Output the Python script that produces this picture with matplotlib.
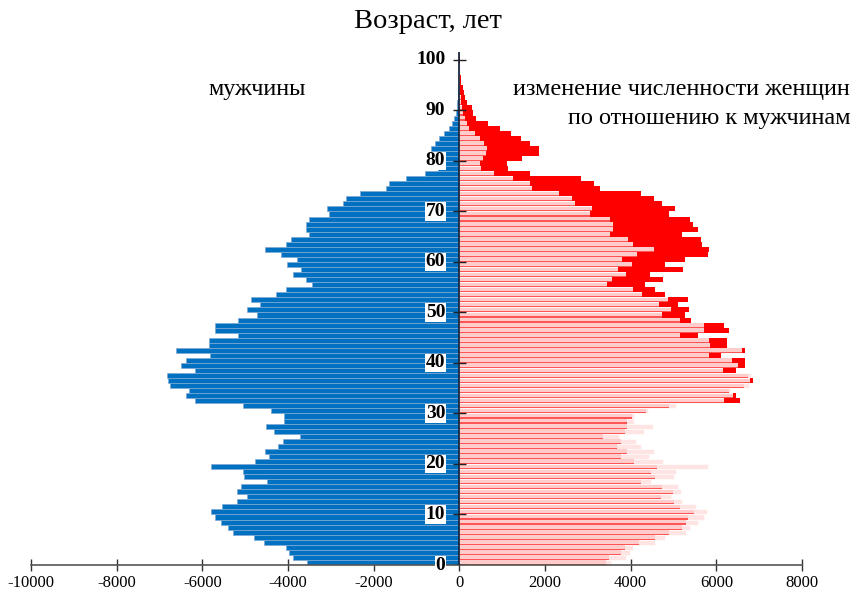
import numpy as np
import matplotlib
matplotlib.use("Agg")
import matplotlib.pyplot as plt

ages = list(range(0, 101))

male = [3550, 3890, 3980, 4055, 4570, 4800, 5290, 5390, 5570, 5705,
        5790, 5530, 5190, 4950, 5180, 5105, 4480, 5020, 5060, 5800,
        4765, 4435, 4545, 4240, 4120, 3725, 4320, 4525, 4085, 4085,
        4400, 5060, 6175, 6390, 6315, 6755, 6790, 6820, 6165, 6505,
        6370, 5825, 6610, 5850, 5835, 5160, 5715, 5705, 5160, 4730,
        4950, 4665, 4875, 4275, 4045, 3440, 3575, 3880, 3695, 4020,
        3790, 4155, 4545, 4055, 3935, 3520, 3585, 3585, 3520, 3040,
        3090, 2710, 2635, 2330, 1705, 1640, 1245, 800, 505, 490,
        555, 620, 655, 570, 480, 360, 230, 175, 130, 85,
        60, 45, 35, 25, 20, 15, 10, 8, 5, 3, 2]

female = [3430, 3485, 3780, 3870, 4195, 4560, 4885, 5210, 5300, 5345,
          5485, 5160, 5005, 4700, 4980, 4730, 4240, 4560, 4470, 4610,
          4085, 3780, 3920, 3690, 3780, 3345, 3870, 3920, 3920, 4030,
          4360, 4895, 6560, 6450, 6300, 6635, 6865, 6730, 6450, 6665,
          6665, 6110, 6665, 6240, 6240, 5575, 6295, 6185, 5420, 5270,
          5355, 5095, 5345, 4810, 4560, 4340, 4745, 4450, 5225, 4790,
          5280, 5805, 5825, 5670, 5650, 5205, 5575, 5465, 5390, 4885,
          5025, 4720, 4545, 4240, 3290, 3135, 2830, 1640, 1135, 1115,
          1465, 1870, 1870, 1660, 1430, 1210, 950, 675, 395, 320,
          305, 185, 140, 110, 75, 45, 30, 20, 12, 8, 5]

x_ticks = [-10000, -8000, -6000, -4000, -2000, 0, 2000, 4000, 6000, 8000]
y_ticks = [0, 10, 20, 30, 40, 50, 60, 70, 80, 90, 100]

title_text = "Возраст, лет"
left_label = "мужчины"
right_label1 = "изменение численности женщин"
right_label2 = "по отношению к мужчинам"

serif = ["Liberation Serif", "DejaVu Serif"]

a = np.array(ages, dtype=float)
m = np.array(male, dtype=float)
f = np.array(female, dtype=float)
common = np.minimum(m, f)
excess = np.clip(f - m, 0, None)

fig = plt.figure(figsize=(8.52, 5.93), dpi=100)
ax = fig.add_axes([31 / 852, 28 / 593, 771 / 852, 512.6 / 593])

# men (left)
ax.barh(a, -m, height=1.0, align="edge", color="#0070c0",
        edgecolor="#7fa9d6", linewidth=0.5, zorder=2)
# mirrored men (light), women common part, red separator lines
ax.barh(a, m, height=1.0, align="edge", color="#ffe4e4",
        edgecolor="#ffffff", linewidth=0.4, zorder=2)
ax.barh(a + 0.1, common, height=0.8, align="edge", color="#ffcccc",
        linewidth=0, zorder=3)
ax.barh(a, common, height=0.22, align="edge", color="#ff5555",
        linewidth=0, zorder=4)
# excess of women over men
ax.barh(a, excess, left=m, height=1.0, align="edge", color="#ff0000",
        linewidth=0, zorder=4)

ax.set_xlim(-10000, 8000)
ax.set_ylim(0, 101.5)

for s in ["top", "right", "left"]:
    ax.spines[s].set_visible(False)
ax.spines["bottom"].set_position(("data", 0))
ax.spines["bottom"].set_color("#555555")
ax.spines["bottom"].set_linewidth(1.2)
ax.spines["bottom"].set_zorder(5)

# vertical age axis at x = 0
ax.axvline(0, color="#1a2a40", linewidth=1.3, zorder=6)
for t in y_ticks:
    ax.plot([-150, 150], [t, t], color="#222222", linewidth=1.0, zorder=7,
            solid_capstyle="butt")
    ax.text(-330, t, str(t), ha="right", va="center", fontsize=14,
            fontweight="bold", family=serif, zorder=8,
            bbox=dict(facecolor="white", edgecolor="none", pad=0.5))

ax.set_yticks([])
ax.set_xticks(x_ticks)
ax.set_xticklabels([str(v) for v in x_ticks], family=serif, fontsize=12)
ax.tick_params(axis="x", direction="inout", length=8, width=1.0,
               color="#333333", pad=3)

fig.text(428 / 852, 1 - 21 / 593, title_text, ha="center", va="center",
         fontsize=20.5, family=serif)
fig.text(257 / 852, 1 - 90 / 593, left_label, ha="center", va="center",
         fontsize=17.5, family=serif)
fig.text(850 / 852, 1 - 90 / 593, right_label1, ha="right", va="center",
         fontsize=17.5, family=serif)
fig.text(850 / 852, 1 - 118 / 593, right_label2, ha="right", va="center",
         fontsize=17.5, family=serif)

fig.savefig("out.png", dpi=100)
